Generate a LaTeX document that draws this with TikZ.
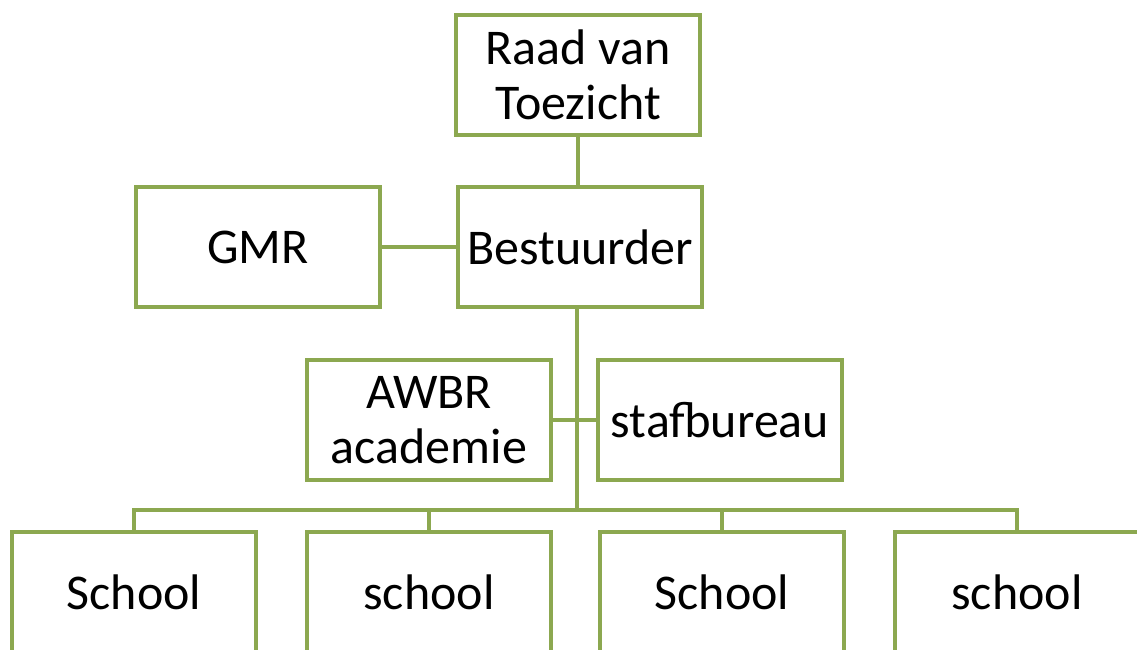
\documentclass[tikz,border=0pt]{standalone}
\usepackage{fontspec}
\setmainfont{Carlito}
\definecolor{orggreen}{RGB}{140,168,80}
\begin{document}
\begin{tikzpicture}[x=0.5pt, y=-0.5pt]
    \tikzstyle{every node}=[draw=orggreen, line width=2.3pt, fill=white, minimum width=122pt, minimum height=60pt, inner sep=1pt, align=center, font=\fontsize{25}{27.5}\selectfont]
    \tikzstyle{link}=[draw=orggreen, line width=2.3pt]
    \useasboundingbox (0,0) rectangle (1137,649);
    \clip (0,0) rectangle (1137,649);
    \node (raad) at (578,75) {Raad van\\Toezicht};
    \node (best) at (580,247) {Bestuurder};
    \node (gmr) at (258,247) {GMR};
    \node (awbr) at (429,420) {AWBR\\academie};
    \node (staf) at (720,420) {stafbureau};
    \node (s1) at (134,592) {School};
    \node (s2) at (429,592) {school};
    \node (s3) at (722,592) {School};
    \node (s4) at (1017,592) {school};
    \coordinate (bus) at (577,510);
    \draw[link] (raad) -- (raad |- best.north);
    \draw[link] (gmr) -- (best);
    \draw[link] (bus |- best.south) -- (bus);
    \draw[link] (awbr) -- (staf);
    \foreach \s in {s1,s2,s3,s4} \draw[link] (bus) -| (\s);
\end{tikzpicture}
\end{document}
